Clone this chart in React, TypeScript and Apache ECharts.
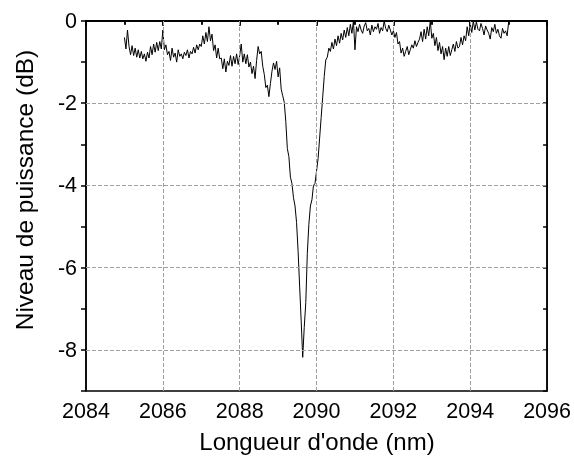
import React, { useEffect, useRef } from "react";
import * as echarts from "echarts";

// Sampled spectrum: wavelength start & step (nm), power values (dB)
const startNm = 2085.0;
const stepNm = 0.04;
const powerDb: number[] = [
  // 2085.00 - 2085.48
  -0.40, -0.68, -0.22, -0.62, -0.82, -0.60, -0.84, -0.66, -0.88, -0.70, -0.90, -0.74, -0.92,
  // 2085.52 - 2086.00
  -0.80, -0.98, -0.76, -0.90, -0.62, -0.82, -0.56, -0.76, -0.52, -0.72, -0.50, -0.68, -0.22,
  // 2086.04 - 2086.48
  -0.70, -0.58, -0.82, -0.74, -0.96, -0.66, -0.88, -0.78, -1.00, -0.70, -0.86, -0.80,
  // 2086.52 - 2086.96
  -0.92, -0.76, -0.84, -0.70, -0.90, -0.74, -0.80, -0.64, -0.78, -0.58, -0.70, -0.56,
  // 2087.00 - 2087.28
  -0.62, -0.36, -0.56, -0.28, -0.50, -0.14, -0.48, -0.32,
  // 2087.32 - 2087.48
  -0.72, -0.58, -0.90, -0.66, -0.92,
  // 2087.52 - 2087.68
  -0.90, -1.16, -0.92, -1.24, -0.98,
  // 2087.72 - 2088.20
  -1.08, -0.84, -1.10, -0.86, -1.04, -0.80, -1.06, -0.84, -0.56, -1.00, -0.80, -1.04, -0.82,
  // 2088.24 - 2088.40
  -1.12, -1.00, -1.28, -1.10, -1.40,
  // 2088.44 - 2088.52
  -0.96, -0.62, -0.80,
  // 2088.56 - 2088.76
  -0.74, -1.10, -1.30, -1.62, -1.56, -1.84,
  // 2088.80 - 2088.92
  -1.52, -1.22, -1.02, -1.18,
  // 2088.96 - 2089.08
  -0.98, -1.36, -1.14, -1.66,
  // 2089.12 - 2089.16
  -1.82, -1.98,
  // 2089.20 - 2090.24 (dip)
  -2.45, -3.10, -3.30, -3.80, -3.95, -4.30, -4.50, -4.90, -5.60, -6.45, -7.30, -8.18, -7.45, -6.85,
  -5.65, -4.95, -4.50, -4.35, -4.00, -3.95, -3.65, -3.35, -2.85, -2.35, -1.85, -1.35, -0.95,
  // 2090.28 - 2090.76
  -0.88, -0.66, -0.74, -0.52, -0.68, -0.44, -0.60, -0.36, -0.54, -0.30, -0.46, -0.22, -0.40,
  // 2090.80 - 2091.00
  -0.16, -0.36, -0.08, -0.30, 0.0, -0.70,
  // 2091.04 - 2092.00
  -0.14, -0.26, -0.08, -0.22, -0.30, -0.12, -0.04, -0.24, -0.18, -0.34, -0.10, -0.26, -0.14,
  -0.20, -0.06, -0.30, -0.16, -0.24, 0.0, -0.18, -0.26, -0.10, -0.22, -0.34, -0.24,
  // 2092.04 - 2092.20
  -0.40, -0.28, -0.56, -0.50, -0.78,
  // 2092.24 - 2092.44
  -0.66, -0.86, -0.74, -0.62, -0.82, -0.70,
  // 2092.48 - 2092.68
  -0.58, -0.66, -0.48, -0.62, -0.52, -0.44,
  // 2092.72 - 2093.00
  -0.26, -0.50, -0.20, -0.44, -0.14, -0.36, 0.0, -0.42,
  // 2093.04 - 2093.40
  -0.30, -0.60, -0.40, -0.72, -0.52, -0.80, -0.62, -0.94, -0.66, -0.86,
  // 2093.44 - 2093.88
  -0.62, -0.84, -0.70, -0.56, -0.74, -0.50, -0.66, -0.62, -0.40, -0.58, -0.36, -0.48,
  // 2093.92 - 2094.20
  -0.14, -0.36, -0.06, -0.28, 0.0, -0.22, -0.02, -0.20,
  // 2094.24 - 2095.00
  -0.24, -0.06, -0.18, -0.34, -0.12, -0.22, -0.30, -0.44, -0.16, -0.26, -0.08, -0.30, -0.20,
  -0.36, -0.42, -0.18, -0.30, -0.24, -0.36, -0.02,
];

const xMin = 2084;
const xMax = 2096;
const yMin = -9;
const yMax = 0;
const yLabelValues = [-8, -6, -4, -2, 0];
const xGridValues = [2086, 2088, 2090, 2092, 2094];
const yGridValues = [-2, -4, -6, -8];
const xTitle = "Longueur d'onde (nm)";
const yTitle = "Niveau de puissance (dB)";

const FONT = "'Liberation Sans', Arial, sans-serif";

export default function App() {
  const ref = useRef<HTMLDivElement>(null);

  useEffect(() => {
    if (!ref.current) return;
    const chart = echarts.init(ref.current, undefined, { renderer: "svg" });
    const data = powerDb.map((v, i) => [Number((startNm + i * stepNm).toFixed(2)), v]);
    const black = "#000";

    chart.setOption({
      animation: false,
      grid: [
        { left: 86, right: 26, top: 21, bottom: 73, show: true, borderColor: black, borderWidth: 1.5 },
      ],
      xAxis: [
        {
          type: "value",
          min: xMin,
          max: xMax,
          interval: 2,
          position: "bottom",
          axisLine: { show: true, lineStyle: { color: black, width: 1.5 } },
          axisTick: { show: true, length: 5, lineStyle: { color: black, width: 1.5 } },
          minorTick: { show: true, splitNumber: 2, length: 3, lineStyle: { color: black, width: 1.5 } },
          axisLabel: { color: black, fontSize: 21.5, fontFamily: FONT, margin: 9, formatter: (v: number) => String(v) },
          splitLine: { show: false },
        },
        {
          type: "value",
          min: xMin,
          max: xMax,
          interval: 1,
          position: "top",
          axisLine: { show: true, lineStyle: { color: black, width: 1.5 } },
          axisTick: { show: true, inside: true, length: 4, lineStyle: { color: black, width: 1.5 } },
          axisLabel: { show: false },
          splitLine: { show: false },
        },
      ],
      yAxis: [
        {
          type: "value",
          min: yMin,
          max: yMax,
          interval: 1,
          position: "left",
          axisLine: { show: true, lineStyle: { color: black, width: 1.5 } },
          axisTick: { show: true, length: 5, lineStyle: { color: black, width: 1.5 } },
          axisLabel: { color: black, fontSize: 21.5, fontFamily: FONT, margin: 9, customValues: yLabelValues },
          splitLine: { show: false },
        },
        {
          type: "value",
          min: yMin,
          max: yMax,
          interval: 1,
          position: "right",
          axisLine: { show: true, lineStyle: { color: black, width: 1.5 } },
          axisTick: { show: true, inside: true, length: 4, lineStyle: { color: black, width: 1.5 } },
          axisLabel: { show: false },
          splitLine: { show: false },
        },
      ],
      graphic: [
        {
          type: "text",
          x: 317,
          y: 441,
          silent: true,
          style: { text: xTitle, fill: black, font: `24px ${FONT}`, textAlign: "center", textVerticalAlign: "middle" },
        },
        {
          type: "text",
          x: 24,
          y: 190,
          rotation: Math.PI / 2,
          silent: true,
          style: { text: yTitle, fill: black, font: `24.5px ${FONT}`, textAlign: "center", textVerticalAlign: "middle" },
        },
      ],
      series: [
        {
          type: "line",
          xAxisIndex: 0,
          yAxisIndex: 0,
          data,
          showSymbol: false,
          symbol: "none",
          lineStyle: { color: black, width: 1 },
          silent: true,
          z: 3,
          markLine: {
            silent: true,
            symbol: "none",
            label: { show: false },
            lineStyle: { color: "#a0a0a0", type: "dashed", width: 1 },
            data: [
              ...yGridValues.map((v) => ({ yAxis: v })),
              ...xGridValues.map((v) => ({ xAxis: v })),
            ],
          },
        },
        {
          type: "line",
          xAxisIndex: 1,
          yAxisIndex: 1,
          data,
          showSymbol: false,
          symbol: "none",
          lineStyle: { opacity: 0 },
          silent: true,
        },
      ],
    });
    return () => chart.dispose();
  }, []);

  return <div ref={ref} style={{ position: "fixed", left: 0, top: 0, width: 574, height: 464 }} />;
}
